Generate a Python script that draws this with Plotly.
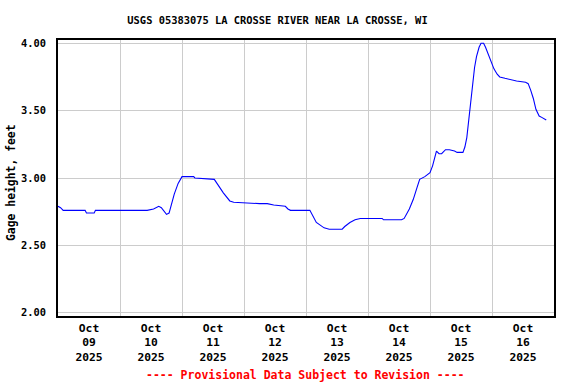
import plotly.graph_objects as go

times = [
    "2025-10-09 00:00", "2025-10-09 01:00", "2025-10-09 02:00", "2025-10-09 10:30", "2025-10-09 11:00",
    "2025-10-09 14:00", "2025-10-09 14:30", "2025-10-10 10:30", "2025-10-10 13:00", "2025-10-10 15:00",
    "2025-10-10 16:00", "2025-10-10 18:00", "2025-10-10 19:00", "2025-10-10 21:00", "2025-10-10 22:30",
    "2025-10-11 00:00", "2025-10-11 04:30", "2025-10-11 05:00", "2025-10-11 12:30", "2025-10-11 13:30",
    "2025-10-11 16:00", "2025-10-11 18:30", "2025-10-11 20:00", "2025-10-12 06:00", "2025-10-12 09:00",
    "2025-10-12 11:30", "2025-10-12 16:00", "2025-10-12 17:00", "2025-10-12 18:00", "2025-10-13 01:30",
    "2025-10-13 02:30", "2025-10-13 04:00", "2025-10-13 05:30", "2025-10-13 07:00", "2025-10-13 09:00",
    "2025-10-13 14:00", "2025-10-13 15:00", "2025-10-13 17:00", "2025-10-13 19:00", "2025-10-13 21:00",
    "2025-10-14 05:30", "2025-10-14 06:00", "2025-10-14 13:00", "2025-10-14 14:00", "2025-10-14 16:00",
    "2025-10-14 17:30", "2025-10-14 19:00", "2025-10-14 20:00", "2025-10-14 22:00", "2025-10-15 00:00",
    "2025-10-15 01:00", "2025-10-15 02:30", "2025-10-15 03:30", "2025-10-15 04:30", "2025-10-15 06:00",
    "2025-10-15 07:30", "2025-10-15 09:30", "2025-10-15 10:30", "2025-10-15 12:45", "2025-10-15 13:30",
    "2025-10-15 14:15", "2025-10-15 15:00", "2025-10-15 15:45", "2025-10-15 16:30", "2025-10-15 17:15",
    "2025-10-15 18:00", "2025-10-15 19:00", "2025-10-15 19:45", "2025-10-15 20:45", "2025-10-15 21:30",
    "2025-10-15 22:30", "2025-10-15 23:30", "2025-10-16 00:45", "2025-10-16 02:00", "2025-10-16 03:00",
    "2025-10-16 05:00", "2025-10-16 07:00", "2025-10-16 09:30", "2025-10-16 13:00", "2025-10-16 14:00",
    "2025-10-16 15:00", "2025-10-16 16:00", "2025-10-16 17:00", "2025-10-16 18:15", "2025-10-16 19:15",
    "2025-10-16 21:00",
]
gage_height = [
    2.79, 2.78, 2.76, 2.76, 2.74,
    2.74, 2.76, 2.76, 2.77, 2.79,
    2.78, 2.73, 2.74, 2.88, 2.96,
    3.01, 3.01, 3.00, 2.99, 2.96,
    2.89, 2.83, 2.82, 2.81, 2.81,
    2.80, 2.79, 2.77, 2.76, 2.76,
    2.72, 2.67, 2.65, 2.63, 2.62,
    2.62, 2.64, 2.67, 2.69, 2.70,
    2.70, 2.69, 2.69, 2.70, 2.77,
    2.84, 2.93, 2.99, 3.01, 3.04,
    3.09, 3.20, 3.18, 3.18, 3.21,
    3.21, 3.20, 3.19, 3.19, 3.23,
    3.30, 3.43, 3.60, 3.72, 3.82,
    3.90, 3.97, 4.00, 4.00, 3.97,
    3.92, 3.86, 3.81, 3.77, 3.75,
    3.74, 3.73, 3.72, 3.71, 3.70,
    3.65, 3.59, 3.51, 3.46, 3.45,
    3.43,
]

tick_dates = ["2025-10-09", "2025-10-10", "2025-10-11", "2025-10-12",
              "2025-10-13", "2025-10-14", "2025-10-15", "2025-10-16"]
tick_text = ["Oct<br>%s<br>2025" % d[-2:] for d in tick_dates]
midnights = [d + " 00:00" for d in tick_dates] + ["2025-10-17 00:00"]
noons = [d + " 12:00" for d in tick_dates]
y_ticks = [2.0, 2.5, 3.0, 3.5, 4.0]

FONT = "DejaVu Sans Mono"

fig = go.Figure()
fig.add_trace(go.Scatter(x=times, y=gage_height, mode="lines",
                         line=dict(color="#0000ff", width=1.1), showlegend=False))

fig.update_layout(
    width=576, height=384,
    margin=dict(l=58, r=22, t=40, b=68),
    paper_bgcolor="white", plot_bgcolor="white",
    title=dict(text="USGS 05383075 LA CROSSE RIVER NEAR LA CROSSE, WI",
               x=277.5 / 576, xanchor="center", y=1 - 20 / 384, yanchor="middle",
               font=dict(family=FONT, size=10.4, color="black", weight="bold")),
    font=dict(family=FONT, color="black"),
)
fig.update_xaxes(
    range=["2025-10-09 00:00", "2025-10-17 00:00"],
    tickvals=noons, ticktext=tick_text, ticks="",
    tickfont=dict(family=FONT, size=11.3, color="black", weight="bold"),
    showgrid=False,
    minor=dict(tickvals=midnights, showgrid=True, gridcolor="#cccccc", gridwidth=1, ticks=""),
    showline=True, linecolor="black", linewidth=2, mirror=True,
    zeroline=False,
)
fig.update_yaxes(
    range=[1.976, 4.024],
    tickvals=y_ticks, tickformat=".2f", ticks="",
    ticklabelstandoff=8,
    tickfont=dict(family=FONT, size=10.4, color="black", weight="bold"),
    showgrid=True, gridcolor="#cccccc", gridwidth=1,
    showline=True, linecolor="black", linewidth=2, mirror=True,
    zeroline=False,
)
fig.add_annotation(text="Gage height, feet", textangle=-90,
                   xref="paper", yref="paper", x=(11 - 58) / 496, y=(316 - 183) / 276,
                   xanchor="center", yanchor="middle", showarrow=False,
                   font=dict(family=FONT, size=11.4, color="black", weight="bold"))
fig.add_annotation(text="---- Provisional Data Subject to Revision ----",
                   xref="paper", yref="paper", x=(305 - 58) / 496, y=(316 - 375) / 276,
                   xanchor="center", yanchor="middle", showarrow=False,
                   font=dict(family=FONT, size=11.5, color="#ff0000", weight="bold"))

fig.write_html("out.html", config={"displayModeBar": False},
               post_script="document.body.style.margin='0';")
